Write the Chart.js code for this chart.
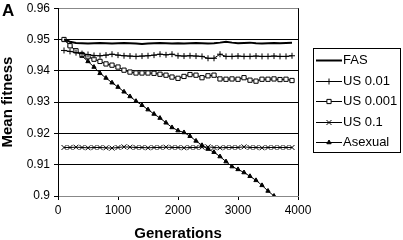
<!DOCTYPE html>
<html>
<head>
<meta charset="utf-8">
<script src="https://cdn.jsdelivr.net/npm/chart.js@4.4.1/dist/chart.umd.min.js"></script>
<style>
  html, body { margin: 0; padding: 0; background: #fff; }
  #wrap { width: 403px; height: 240px; }
</style>
</head>
<body>
<div id="wrap"><canvas id="chart" width="403" height="240"></canvas></div>
<script>
const generations = [100, 200, 300, 400, 500, 600, 700, 800, 900, 1000,
  1100, 1200, 1300, 1400, 1500, 1600, 1700, 1800, 1900, 2000,
  2100, 2200, 2300, 2400, 2500, 2600, 2700, 2800, 2900, 3000,
  3100, 3200, 3300, 3400, 3500, 3600, 3700, 3800, 3900];

const fas = [0.9500, 0.9493, 0.9489, 0.9488, 0.9487, 0.9488, 0.9489, 0.9488, 0.9487, 0.9488,
  0.9489, 0.9488, 0.9487, 0.9486, 0.9487, 0.9488, 0.9489, 0.9488, 0.9487, 0.9488,
  0.9487, 0.9488, 0.9489, 0.9488, 0.9487, 0.9488, 0.9490, 0.9493, 0.9490, 0.9488,
  0.9489, 0.9490, 0.9488, 0.9487, 0.9488, 0.9489, 0.9488, 0.9489, 0.9490];

const us001 = [0.9465, 0.9462, 0.9458, 0.9455, 0.9452, 0.9449, 0.9448, 0.9450, 0.9453, 0.9450,
  0.9448, 0.9447, 0.9446, 0.9447, 0.9448, 0.9450, 0.9453, 0.9451, 0.9453, 0.9448,
  0.9447, 0.9448, 0.9447, 0.9446, 0.9440, 0.9440, 0.9453, 0.9446, 0.9446, 0.9447,
  0.9446, 0.9446, 0.9447, 0.9446, 0.9446, 0.9447, 0.9446, 0.9446, 0.9448];

const us0001 = [0.9500, 0.9480, 0.9464, 0.9452, 0.9445, 0.9437, 0.9430, 0.9422, 0.9418, 0.9412,
  0.9402, 0.9396, 0.9393, 0.9393, 0.9393, 0.9392, 0.9389, 0.9386, 0.9380, 0.9376,
  0.9382, 0.9388, 0.9386, 0.9378, 0.9384, 0.9386, 0.9374, 0.9373, 0.9374, 0.9373,
  0.9378, 0.9370, 0.9367, 0.9373, 0.9373, 0.9374, 0.9372, 0.9373, 0.9369];

const us01 = [0.9155, 0.9155, 0.9156, 0.9155, 0.9154, 0.9155, 0.9155, 0.9154, 0.9153, 0.9155,
  0.9157, 0.9156, 0.9155, 0.9155, 0.9154, 0.9155, 0.9155, 0.9156, 0.9155, 0.9155,
  0.9154, 0.9155, 0.9155, 0.9156, 0.9157, 0.9155, 0.9154, 0.9155, 0.9155, 0.9155,
  0.9157, 0.9155, 0.9155, 0.9154, 0.9155, 0.9155, 0.9155, 0.9155, 0.9155];

const asexual = [0.9500, 0.9482, 0.9463, 0.9447, 0.9430, 0.9412, 0.9392, 0.9377, 0.9362, 0.9348,
  0.9333, 0.9318, 0.9303, 0.9290, 0.9276, 0.9262, 0.9249, 0.9234, 0.9219, 0.9209,
  0.9203, 0.9191, 0.9176, 0.9162, 0.9150, 0.9140, 0.9126, 0.9110, 0.9094, 0.9085,
  0.9075, 0.9063, 0.9050, 0.9034, 0.9016, 0.9000, 0.8985];

const seriesNames = ['FAS', 'US 0.01', 'US 0.001', 'US 0.1', 'Asexual'];
const FONT = '"Liberation Sans", Arial, sans-serif';

function pts(values) {
  return values.map((v, i) => ({ x: generations[i], y: v }));
}

function series(label, values, style, extra) {
  return Object.assign({
    label: label,
    data: pts(values),
    borderColor: '#000',
    borderWidth: 1,
    pointStyle: style,
    pointRadius: style ? 3 : 0,
    pointBorderColor: '#000',
    pointBorderWidth: 1,
    pointBackgroundColor: '#000',
    tension: 0
  }, extra || {});
}

// legend with a border, line + marker samples (Excel style)
const legendBox = {
  id: 'legendBox',
  afterDraw(chart) {
    const ctx = chart.ctx;
    ctx.save();
    ctx.strokeStyle = '#000';
    ctx.lineWidth = 1;
    ctx.strokeRect(313.5, 48.5, 87, 104);
    ctx.font = '13px ' + FONT;
    ctx.textBaseline = 'middle';
    ctx.fillStyle = '#000';
    chart.data.datasets.forEach((ds, i) => {
      const y = Math.round(60 + i * 20.6) + 0.5;
      ctx.beginPath();
      ctx.lineWidth = ds.borderWidth;
      ctx.strokeStyle = '#000';
      ctx.moveTo(316, y);
      ctx.lineTo(342, y);
      ctx.stroke();
      if (ds.pointRadius > 0) {
        ctx.lineWidth = 1;
        ctx.fillStyle = ds.pointBackgroundColor;
        Chart.helpers.drawPoint(ctx, {
          pointStyle: ds.pointStyle, radius: ds.pointRadius, borderWidth: 1, rotation: 0
        }, 329, y);
      }
      ctx.fillStyle = '#000';
      ctx.fillText(ds.label, 343, y);
    });
    ctx.font = 'bold 17px ' + FONT;
    ctx.fillText('A', 2, 11);
    ctx.restore();
  }
};

new Chart(document.getElementById('chart'), {
  type: 'line',
  data: {
    datasets: [
      series(seriesNames[0], fas, false, { borderWidth: 2 }),
      series(seriesNames[1], us001, 'cross'),
      series(seriesNames[2], us0001, 'rect', { pointBackgroundColor: '#fff' }),
      series(seriesNames[3], us01, 'crossRot', { pointRadius: 3.5 }),
      series(seriesNames[4], asexual, 'triangle', { pointRadius: 2.5 })
    ]
  },
  options: {
    responsive: false,
    animation: false,
    devicePixelRatio: 1,
    layout: { padding: { left: 0, right: 105, top: 0, bottom: 0 } },
    plugins: { legend: { display: false }, tooltip: { enabled: false } },
    scales: {
      x: {
        type: 'linear',
        min: 0, max: 4000,
        ticks: { stepSize: 1000, color: '#000', font: { family: FONT, size: 12 }, padding: 3, maxRotation: 0,
          callback: (v) => String(v) },
        grid: {
          color: (c) => (c.tick && c.tick.value === 4000 ? '#000' : 'transparent'),
          tickColor: '#000', tickLength: 4
        },
        border: { color: '#888' },
        title: { display: true, text: 'Generations', color: '#000',
          font: { family: FONT, size: 15, weight: 'bold', lineHeight: 1 }, padding: { top: 0, bottom: -1 } },
        afterFit: (s) => { s.height = 44; }
      },
      y: {
        min: 0.9, max: 0.96,
        ticks: { stepSize: 0.01, color: '#000', font: { family: FONT, size: 12, lineHeight: 0.7 }, padding: 4,
          callback: (v) => String(parseFloat(Number(v).toFixed(2))) },
        grid: {
          color: (c) => (c.tick && (Math.abs(c.tick.value - 0.9) < 1e-6 || Math.abs(c.tick.value - 0.96) < 1e-6) ? '#888' : '#000'),
          tickColor: '#000', tickLength: 4
        },
        border: { color: '#000' },
        title: { display: true, text: 'Mean fitness', color: '#000',
          font: { family: FONT, size: 15, weight: 'bold', lineHeight: 1 }, padding: { top: 0, bottom: 0 } },
        afterFit: (s) => { s.width = 58; }
      }
    }
  },
  plugins: [legendBox]
});
</script>
</body>
</html>
